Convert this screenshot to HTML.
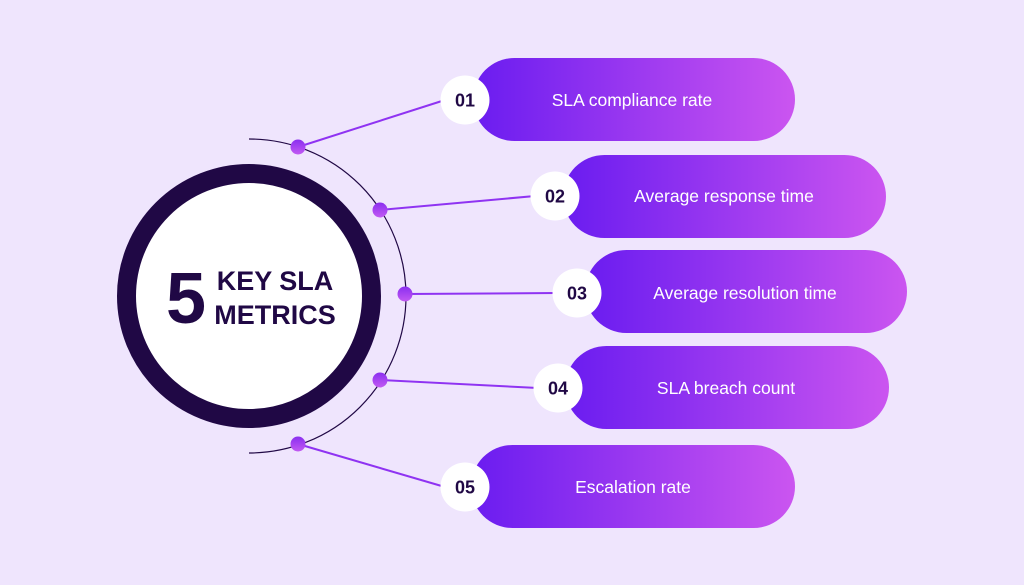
<!DOCTYPE html>
<html><head><meta charset="utf-8"><style>
body{margin:0;width:1024px;height:580px;overflow:hidden;background:#efe5fd;font-family:"Liberation Sans",sans-serif}
</style></head><body>
<svg width="1024" height="580" viewBox="0 0 1024 580" xmlns="http://www.w3.org/2000/svg">
<defs>
<linearGradient id="g" x1="0" x2="1" y1="0" y2="0"><stop offset="0" stop-color="#6a1cf0"/><stop offset="1" stop-color="#cb55f0"/></linearGradient>
<linearGradient id="d" x1="0" x2="0" y1="0" y2="1"><stop offset="0" stop-color="#8a2ef0"/><stop offset="1" stop-color="#c25af2"/></linearGradient>
</defs>
<rect width="1024" height="580" fill="#efe5fd"/>
<g fill="url(#g)">
<rect x="473" y="58" width="322" height="83" rx="41.5"/>
<rect x="563" y="155" width="323" height="83" rx="41.5"/>
<rect x="585" y="250" width="322" height="83" rx="41.5"/>
<rect x="565" y="346" width="324" height="83" rx="41.5"/>
<rect x="471" y="445" width="324" height="83" rx="41.5"/>
</g>
<path d="M249 139 A157 157 0 0 1 249 453" fill="none" stroke="#200845" stroke-width="1.2"/>
<g stroke="#8f33f2" stroke-width="2">
<line x1="298" y1="147" x2="445" y2="100"/>
<line x1="380" y1="210" x2="535" y2="196"/>
<line x1="405" y1="294" x2="557" y2="293"/>
<line x1="380" y1="380" x2="538" y2="388"/>
<line x1="298" y1="444" x2="445" y2="487"/>
</g>
<g fill="url(#d)">
<circle cx="298" cy="147" r="7.5"/><circle cx="380" cy="210" r="7.5"/><circle cx="405" cy="294" r="7.5"/><circle cx="380" cy="380" r="7.5"/><circle cx="298" cy="444" r="7.5"/>
</g>
<circle cx="249" cy="296" r="122.5" fill="#fff" stroke="#200845" stroke-width="19"/>
<g fill="#fff">
<circle cx="465" cy="100" r="24.5"/><circle cx="555" cy="196" r="24.5"/><circle cx="577" cy="293" r="24.5"/><circle cx="558" cy="388" r="24.5"/><circle cx="465" cy="487" r="24.5"/>
</g>
<g fill="#200845" font-family="Liberation Sans,sans-serif" font-weight="bold" font-size="18" text-anchor="middle">
<text x="465" y="106.5">01</text><text x="555" y="202.5">02</text><text x="577" y="299.5">03</text><text x="558" y="394.5">04</text><text x="465" y="493.5">05</text>
</g>
<g fill="#fff" font-family="Liberation Sans,sans-serif" font-size="17.5" text-anchor="middle">
<text x="632" y="106">SLA compliance rate</text>
<text x="724" y="202">Average response time</text>
<text x="745" y="299">Average resolution time</text>
<text x="726" y="394">SLA breach count</text>
<text x="633" y="493">Escalation rate</text>
</g>
<g fill="#200845" font-family="Liberation Sans,sans-serif" font-weight="bold">
<text x="186" y="323" font-size="72" text-anchor="middle">5</text>
<text x="275" y="290" font-size="27" text-anchor="middle">KEY SLA</text>
<text x="275" y="324" font-size="27" text-anchor="middle">METRICS</text>
</g>
</svg>
</body></html>
